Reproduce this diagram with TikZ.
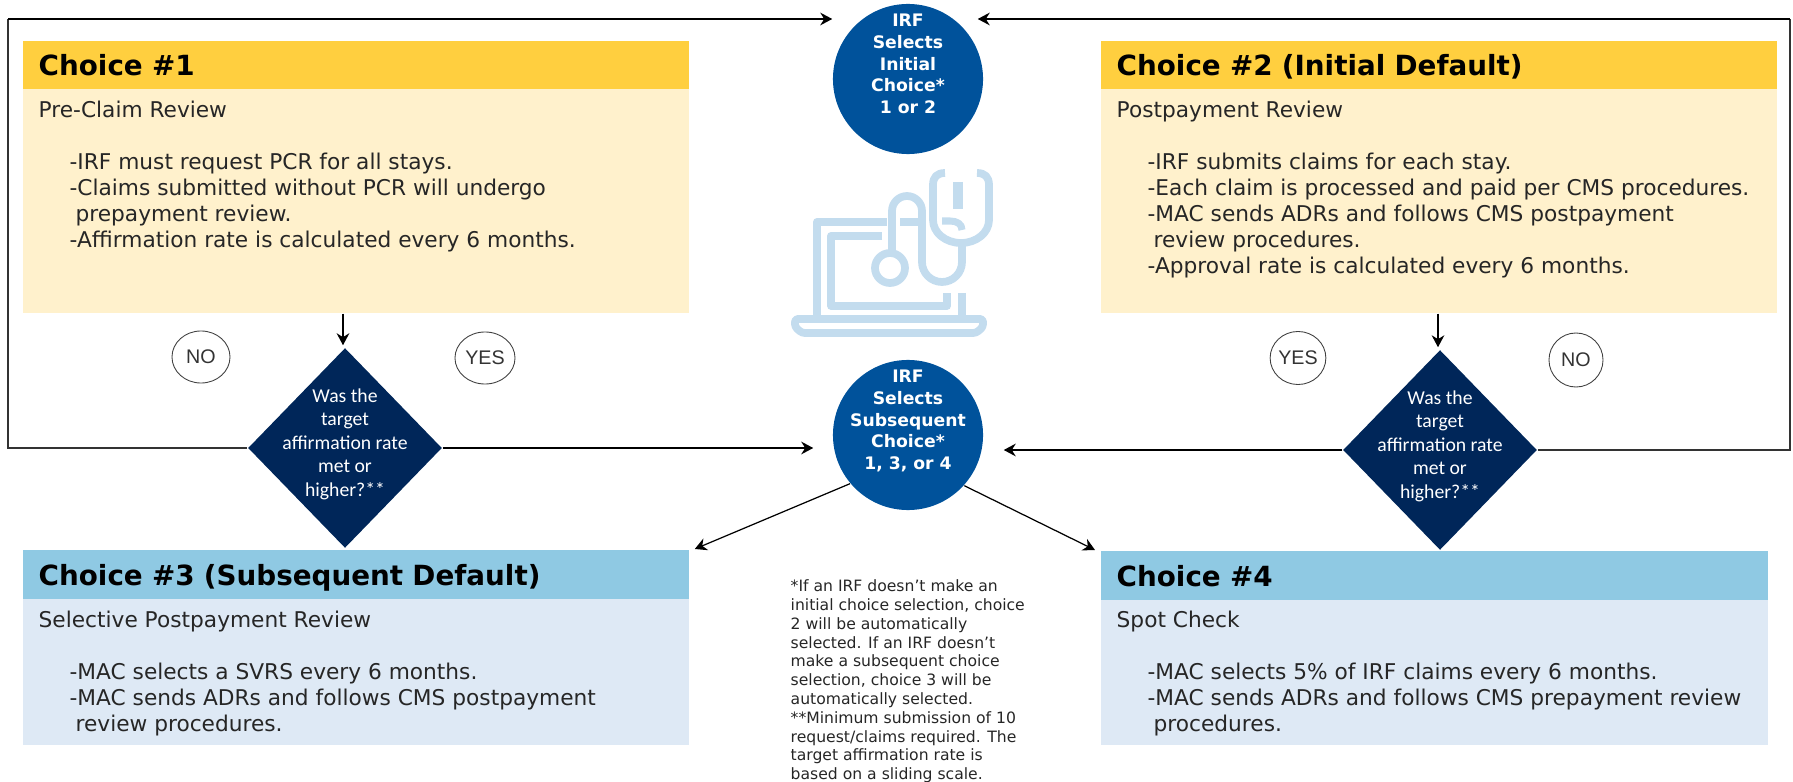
\documentclass[tikz,border=0pt]{standalone}
\usepackage{fontspec}
\setmainfont{DejaVu Sans}
\newfontfamily\dmdfont{Carlito}
\newfontfamily\ansfont{Liberation Sans}
\usetikzlibrary{arrows.meta,positioning,calc,shapes.geometric}
\definecolor{headyellow}{HTML}{FFCF3F}
\definecolor{bodyyellow}{HTML}{FFF1CC}
\definecolor{headblue}{HTML}{8FC9E3}
\definecolor{bodyblue}{HTML}{DEE9F5}
\definecolor{circblue}{HTML}{00529B}
\definecolor{dmdnavy}{HTML}{002659}
\definecolor{iconblue}{HTML}{C3DCEE}
\newcommand{\ind}{\hspace*{8.8pt}}
\newcommand{\indh}{\hspace*{10.5pt}}
\tikzset{
  choicehead/.style={rectangle,anchor=north west,inner xsep=0.16cm,inner ysep=0pt,minimum height=0.48cm,text width=6.34cm,align=left,text height=6.2pt,text depth=0pt,font=\fontsize{7.9pt}{9pt}\selectfont\bfseries},
  choicebody/.style={rectangle,anchor=north west,inner sep=0pt},
  bodytext/.style={anchor=north west,inner sep=0pt,align=left,text=black!85,font=\fontsize{6.17pt}{7.4pt}\selectfont},
  circnode/.style={circle,fill=circblue,inner sep=0pt,minimum size=1.5cm},
  circtext/.style={inner sep=0pt,align=center,text=white,font=\fontsize{4.9pt}{6.2pt}\selectfont\bfseries},
  decision/.style={diamond,fill=dmdnavy,inner sep=0pt,minimum width=1.94cm,minimum height=2cm},
  dectext/.style={inner sep=0pt,align=center,text=white,font=\dmdfont\fontsize{5.6pt}{6.7pt}\selectfont},
  answer/.style={ellipse,draw=black!75,line width=0.25pt,inner sep=0pt,font=\ansfont\fontsize{5.6pt}{6.6pt}\selectfont,text=black!80},
  flow/.style={-{Stealth[length=3.4pt,width=3.6pt]},line width=0.55pt,black},
  thinflow/.style={-{Stealth[length=3.4pt,width=3.6pt]},line width=0.35pt,black},
  plainline/.style={line width=0.3pt,black!80},
  iconline/.style={iconblue,line width=2.2pt,line join=round}
}
\begin{document}
\begin{tikzpicture}[x=0.01cm,y=-0.01cm]
    \useasboundingbox (0,0) rectangle (1793,782);
    \node [choicebody,fill=bodyyellow,minimum width=6.66cm,minimum height=2.72cm] (bodyA) at (22,40) {};
    \node [choicehead,fill=headyellow] (headA) at (22,40) {Choice \#1};
    \node [bodytext] (textA) at (38,100) {Pre-Claim Review\\[7.4pt]
      \ind-IRF must request PCR for all stays.\\
      \ind-Claims submitted without PCR will undergo\\
      \indh prepayment review.\\
      \ind-Affirmation rate is calculated every 6 months.};
    \node [choicebody,fill=bodyyellow,minimum width=6.76cm,minimum height=2.72cm] (bodyB) at (1100,40) {};
    \node [choicehead,fill=headyellow,text width=6.44cm] (headB) at (1100,40) {Choice \#2 (Initial Default)};
    \node [bodytext] (textB) at (1116,100) {Postpayment Review\\[7.4pt]
      \ind-IRF submits claims for each stay.\\
      \ind-Each claim is processed and paid per CMS procedures.\\
      \ind-MAC sends ADRs and follows CMS postpayment\\
      \indh review procedures.\\
      \ind-Approval rate is calculated every 6 months.};
    \node [choicebody,fill=bodyblue,minimum width=6.66cm,minimum height=1.95cm] (bodyC) at (22,549) {};
    \node [choicehead,fill=headblue,minimum height=0.49cm] (headC) at (22,549) {Choice \#3 (Subsequent Default)};
    \node [bodytext] (textC) at (38,610.5) {Selective Postpayment Review\\[7.4pt]
      \ind-MAC selects a SVRS every 6 months.\\
      \ind-MAC sends ADRs and follows CMS postpayment\\
      \indh review procedures.};
    \node [choicebody,fill=bodyblue,minimum width=6.67cm,minimum height=1.94cm] (bodyD) at (1100,550) {};
    \node [choicehead,fill=headblue,text width=6.35cm,minimum height=0.49cm] (headD) at (1100,550) {Choice \#4};
    \node [bodytext] (textD) at (1116,610.5) {Spot Check\\[7.4pt]
      \ind-MAC selects 5\% of IRF claims every 6 months.\\
      \ind-MAC sends ADRs and follows CMS prepayment review\\
      \indh procedures.};
    \node [circnode] (circA) at (908,79) {};
    \node [circtext] (circAtext) at (908,64) {IRF\\Selects\\Initial\\Choice*\\1 or 2};
    \node [circnode] (circB) at (908,435) {};
    \node [circtext] (circBtext) at (908,421) {IRF\\Selects\\Subsequent\\Choice*\\1, 3, or 4};
    \node [decision] (dmdA) at (345,448) {};
    \node [dectext] (dmdAtext) at (345,444) {Was the\\target\\affirmation rate\\met or\\higher?**};
    \node [decision] (dmdB) at (1440,450) {};
    \node [dectext] (dmdBtext) at (1440,446) {Was the\\target\\affirmation rate\\met or\\higher?**};
    \node [answer,minimum width=0.58cm,minimum height=0.52cm] (noA) at (201,357) {NO};
    \node [answer,minimum width=0.6cm,minimum height=0.52cm] (yesA) at (485,358) {YES};
    \node [answer,minimum width=0.54cm,minimum height=0.53cm] (yesB) at (1298,358) {YES};
    \node [answer,minimum width=0.54cm,minimum height=0.54cm] (noB) at (1576,360) {NO};
    \node [anchor=north west,inner sep=0pt,align=left,text=black!85,font=\fontsize{4.44pt}{5.35pt}\selectfont] (noteText) at (790,579) {*If an IRF doesn't make an\\initial choice selection, choice\\2 will be automatically\\selected. If an IRF doesn't\\make a subsequent choice\\selection, choice 3 will be\\automatically selected.\\**Minimum submission of 10\\request/claims required. The\\target affirmation rate is\\based on a sliding scale.};
    \coordinate (cornerAbot) at (8,448);
    \coordinate (cornerAtop) at (8,19);
    \coordinate (cornerBbot) at (1790,450);
    \coordinate (cornerBtop) at (1790,19);
    \draw [plainline] (dmdA.west) -- (cornerAbot) -- (cornerAtop);
    \draw [flow] (cornerAtop) -- (cornerAtop -| circA.west);
    \draw [plainline,line width=0.4pt] (dmdB.east) -- (cornerBbot) -- (cornerBtop);
    \draw [flow,shorten >=-0.06cm] (cornerBtop) -- (cornerBtop -| circA.east);
    \draw [flow,shorten >=0.19cm] (dmdA.east) -- (dmdA.east -| circB.west);
    \draw [flow,shorten >=0.2cm] (dmdB.west) -- (dmdB.west -| circB.east);
    \draw [flow] ([xshift=-0.02cm]bodyA.south -| dmdA.north) -- ([xshift=-0.02cm,yshift=0.02cm]dmdA.north);
    \draw [thinflow] ([xshift=-0.02cm]bodyB.south -| dmdB.north) -- ([xshift=-0.02cm,yshift=0.02cm]dmdB.north);
    \draw [thinflow] (circB.220) -- ([xshift=0.05cm]bodyC.north east);
    \draw [thinflow] (circB.318) -- ([xshift=-0.05cm]bodyD.north west);
    \draw [iconline] (887,222) -- (817,222) -- (817,317);
    \draw [iconline] (962,293) -- (962,317);
    \draw [iconline,rounded corners=0.8pt] (795,319) -- (983,319) -- (983,327) -- (976,333) -- (802,333) -- (795,327) -- cycle;
    \draw [iconline] (882,236) -- (831,236) -- (831,306) -- (947,306) -- (947,293);
    \draw [iconline] (900,222) -- (923,222);
    \draw [iconline] (890,268) circle (15);
    \draw [iconline] (892,253) -- (892,211) arc (180:360:15) -- (922,262) arc (180:0:20) -- (962,245);
    \draw [iconline] (933,208) -- (933,220) arc (180:0:28 and 23) -- (989,208);
    \draw [iconline] (945,173) .. controls (937,173) and (933,177) .. (933,185) -- (933,208);
    \draw [iconline] (977,173) .. controls (985,173) and (989,177) .. (989,185) -- (989,208);
    \draw [iconline,line width=2.8pt] (958,182) -- (958,209);
    \draw [iconline,line width=2pt] (942,221) -- (950,221) .. controls (957,221) and (962,224) .. (962,230);
  \end{tikzpicture}
\end{document}
